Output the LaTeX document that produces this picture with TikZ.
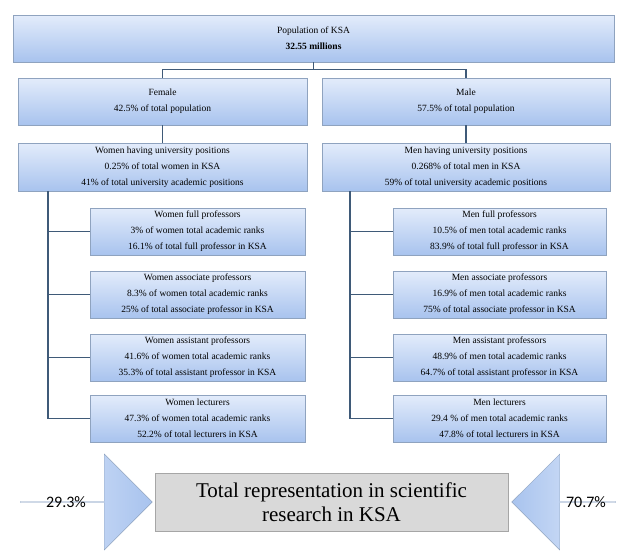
\documentclass[tikz,border=0pt]{standalone}
\usepackage{fontspec}
\setmainfont{Liberation Serif}
\newfontfamily\calib{Carlito}
\usetikzlibrary{shapes.arrows,shadows}
\definecolor{bedge}{HTML}{8FA3BF}
\definecolor{btop}{HTML}{E3ECFB}
\definecolor{bbot}{HTML}{A8C3EE}
\definecolor{lnk}{HTML}{3F5A78}
\begin{document}
\begin{tikzpicture}[x=1pt,y=-1pt,
 bx/.style={draw=bedge,top color=btop,bottom color=bbot,drop shadow={opacity=0.25,shadow xshift=1pt,shadow yshift=-1pt},align=center,font=\fontsize{9.5}{16}\selectfont,inner sep=0pt},
 ln/.style={draw=lnk,line width=1.4pt},
 arr/.style={draw=bedge,left color=btop,right color=bbot,single arrow,single arrow head extend=20pt,minimum height=100pt,minimum width=55pt,inner sep=0pt,font=\calib\fontsize{16}{18}\selectfont}]
\useasboundingbox (0,0) rectangle (620,557);
\newcommand{\bb}[6]{\node[bx,minimum width=#4-#2,minimum height=#5-#3] (#1) at ({(#2+#4)/2},{(#3+#5)/2}) {#6};}
\bb{top}{13}{15}{614}{62}{Population of KSA\\\textbf{32.55 millions}}
\bb{fem}{18}{78}{307}{125}{Female\\42.5\% of total population}
\bb{mal}{322}{78}{610}{125}{Male\\57.5\% of total population}
\bb{wu}{18}{143}{307}{191}{Women having university positions\\0.25\% of total women in KSA\\41\% of total university academic positions}
\bb{mu}{322}{143}{610}{191}{Men having university positions\\0.268\% of total men in KSA\\59\% of total university academic positions}
\bb{w1}{90}{208}{305}{255}{Women full professors\\3\% of women total academic ranks\\16.1\% of total full professor in KSA}
\bb{w2}{90}{271}{305}{318}{Women associate professors\\8.3\% of women total academic ranks\\25\% of total associate  professor in KSA}
\bb{w3}{90}{334}{305}{381}{Women assistant professors\\41.6\% of women total academic ranks\\35.3\% of total assistant professor in KSA}
\bb{w4}{90}{395}{305}{442}{Women lecturers\\47.3\% of women total academic ranks\\52.2\% of total lecturers in KSA}
\bb{m1}{393}{208}{606}{255}{Men full professors\\10.5\% of men total academic ranks\\83.9\% of total full professor in KSA}
\bb{m2}{393}{271}{606}{318}{Men associate  professors\\16.9\% of men total academic ranks\\75\% of total associate  professor in KSA}
\bb{m3}{393}{334}{606}{381}{Men assistant professors\\48.9\% of men total academic ranks\\64.7\% of total assistant professor in KSA}
\bb{m4}{393}{395}{606}{442}{Men  lecturers\\29.4 \% of men total academic ranks\\47.8\% of total lecturers in KSA}
\draw[ln] (top.south) -- ++(0,7) -| (fem.north);
\draw[ln] (top.south) -- ++(0,7) -| (mal.north);
\draw[ln] (fem) -- (wu);
\draw[ln] (mal) -- (mu);
\coordinate (wl) at (48,191);
\coordinate (ml) at (350,191);
\draw[ln] (wl) |- (w4.west);
\foreach \n in {w1,w2,w3} \draw[ln] (wl|-\n.west) -- (\n.west);
\draw[ln] (ml) |- (m4.west);
\foreach \n in {m1,m2,m3} \draw[ln] (ml|-\n.west) -- (\n.west);
\node[draw=gray!70,fill=gray!30,minimum width=353pt,minimum height=58pt,align=center,inner sep=0pt,font=\fontsize{21}{24}\selectfont] (tot) at (331.5,502) {Total representation in scientific\\research in KSA};
\node[arr,shape border rotate=0,minimum height=132pt,minimum width=96pt,single arrow head extend=20pt] (la) at (86,502) {};
\node[arr,shape border rotate=180,minimum height=104pt,minimum width=96pt,left color=bbot,right color=btop] (ra) at (564,502) {};
\node[font=\calib\fontsize{16}{18}\selectfont] (lt) at (66,502) {29.3\%};
\node[font=\calib\fontsize{16}{18}\selectfont] (rt) at (586,502) {70.7\%};
\end{tikzpicture}
\end{document}
